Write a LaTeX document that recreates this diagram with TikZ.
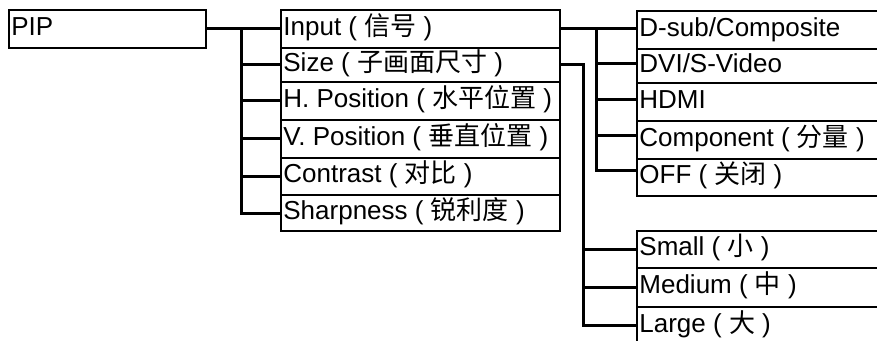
\documentclass[tikz,border=0pt]{standalone}
\usepackage{fontspec}
\setmainfont{Liberation Sans}
\newfontfamily\cjk{Noto Sans CJK SC}
\newcommand\tx[2]{\makebox[#1][l]{#2}}
\newcommand\zh[1]{{\cjk #1}}
\begin{document}
\begin{tikzpicture}[x=1pt,y=-1pt,
  box/.style={draw, line width=1.8pt, anchor=north west, inner xsep=2.5pt, inner ysep=0pt,
    text height=18.6pt, text depth=6pt, font=\fontsize{26}{31}\selectfont},
  conn/.style={line width=3pt}]
\clip (0,0) rectangle (877,340);
% left
\node[box, minimum height=38pt] (pip) at (8,9) {\tx{192pt}{PIP}};
% middle column
\node[box, minimum height=37.4pt] (input) at (280,9.3) {\tx{274pt}{Input ( \zh{信号} )}};
\node[box, minimum height=34.3pt] (size) at (280,46.7) {\tx{274pt}{Size ( \zh{子画面尺寸} )}};
\node[box, minimum height=38pt] (hpos) at (280,81) {\tx{274pt}{H. Position ( \zh{水平位置} )}};
\node[box, minimum height=37.7pt] (vpos) at (280,119) {\tx{274pt}{V. Position ( \zh{垂直位置} )}};
\node[box, minimum height=37.6pt] (contrast) at (280,156.7) {\tx{274pt}{Contrast ( \zh{对比} )}};
\node[box, minimum height=35.7pt] (sharp) at (280,194.3) {\tx{274pt}{Sharpness ( \zh{锐利度} )}};
% right column (input sources)
\node[box, minimum height=38pt] (dsub) at (636,10) {\tx{295pt}{D-sub/Composite}};
\node[box, minimum height=34pt] (dvi) at (636,48) {\tx{295pt}{DVI/S-Video}};
\node[box, minimum height=38pt] (hdmi) at (636,82) {\tx{295pt}{HDMI}};
\node[box, minimum height=38pt] (comp) at (636,120) {\tx{295pt}{Component ( \zh{分量} )}};
\node[box, minimum height=37pt] (off) at (636,158) {\tx{295pt}{OFF ( \zh{关闭} )}};
% right column (sizes)
\node[box, minimum height=37pt] (small) at (636,230) {\tx{295pt}{Small ( \zh{小} )}};
\node[box, minimum height=39pt] (medium) at (636,267) {\tx{295pt}{Medium ( \zh{中} )}};
\node[box, minimum height=38pt] (large) at (636,306) {\tx{295pt}{Large ( \zh{大} )}};
% connectors PIP -> middle
\coordinate (b1) at (241,28);
\draw[conn] (pip.east) -- (pip.east -| input.west);
\draw[conn] (b1) |- (sharp.west);
\draw[conn] (b1 |- size.west) -- (size.west);
\draw[conn] (b1 |- hpos.west) -- (hpos.west);
\draw[conn] (b1 |- vpos.west) -- (vpos.west);
\draw[conn] (b1 |- contrast.west) -- (contrast.west);
% Input -> sources
\coordinate (b2) at (596,28.5);
\coordinate (o1) at (596,63);
\coordinate (o2) at (596,99);
\coordinate (o3) at (596,135);
\coordinate (o4) at (596,170);
\draw[conn] (input.east) -- (input.east -| dsub.west);
\draw[conn] (b2) -- (o4) -- (o4 -| off.west);
\draw[conn] (o1) -- (o1 -| dvi.west);
\draw[conn] (o2) -- (o2 -| hdmi.west);
\draw[conn] (o3) -- (o3 -| comp.west);
% Size -> sizes
\coordinate (b3) at (583,64);
\draw[conn] (size.east) -- (size.east -| b3) |- (large.west);
\draw[conn] (b3 |- small.west) -- (small.west);
\draw[conn] (b3 |- medium.west) -- (medium.west);
\end{tikzpicture}
\end{document}
